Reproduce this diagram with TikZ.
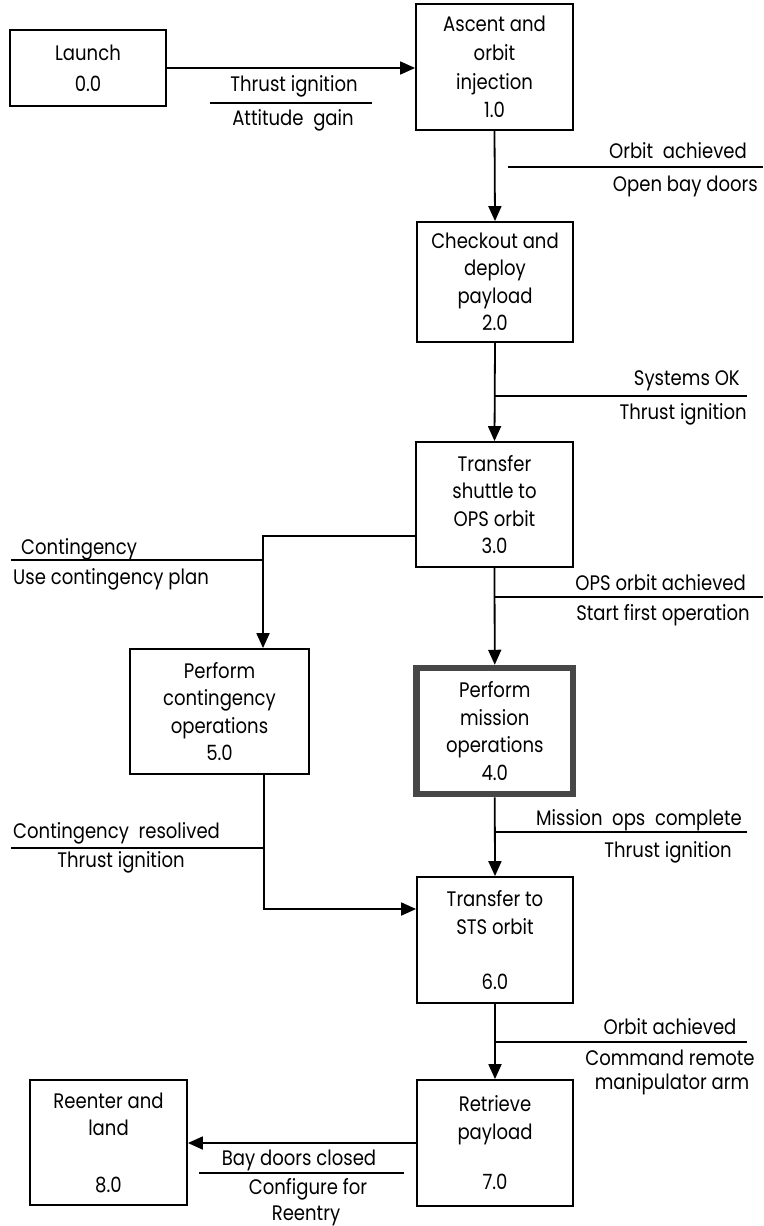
\documentclass[tikz,border=0pt]{standalone}
\usepackage{fontspec}
\setmainfont{Poppins}[FakeStretch=0.86]
\usetikzlibrary{arrows.meta,positioning}
\tikzset{
  proc/.style={draw, line width=1.8pt, rectangle, align=center, inner sep=0pt,
    font=\fontsize{21}{27.5}\selectfont},
  hot/.style={proc, draw=black!72, line width=6.5pt},
  flow/.style={line width=1.8pt, -{Triangle[length=15pt,width=13pt]}},
  rule/.style={line width=1.6pt},
  lbl/.style={inner sep=0pt, text height=15pt, text depth=0pt,
    font=\fontsize{21}{24}\selectfont}
}
\begin{document}
\begin{tikzpicture}[x=1pt, y=-1pt]
\useasboundingbox (0,0) rectangle (763,1226);

% process boxes
\node[proc, minimum width=156pt, minimum height=76pt]  (b0) at (88,68)      {Launch\\[3.5pt]0.0};
\node[proc, minimum width=157pt, minimum height=126pt, font=\fontsize{21}{28.7}\selectfont]
                                                        (b1) at (494.5,67)   {Ascent and\\orbit\\injection\\1.0};
\node[proc, minimum width=156pt, minimum height=120pt] (b2) at (495,282)    {Checkout and\\deploy\\payload\\2.0};
\node[proc, minimum width=157pt, minimum height=125pt] (b3) at (494.5,504.5) {Transfer\\shuttle to\\OPS orbit\\3.0};
\node[hot,  minimum width=156.5pt, minimum height=126pt] (b4) at (494.75,731) {Perform\\mission\\operations\\4.0};
\node[proc, minimum width=179pt, minimum height=125pt] (b5) at (219.5,711.5) {Perform\\contingency\\operations\\5.0};
\node[proc, minimum width=156pt, minimum height=126pt] (b6) at (495,940)    {Transfer to\\STS orbit\\[27.5pt]6.0};
\node[proc, minimum width=156pt, minimum height=126pt] (b7) at (495,1143)   {Retrieve\\payload\\[23pt]7.0};
\node[proc, minimum width=157pt, minimum height=125pt] (b8) at (108.5,1142.5) {Reenter and\\land\\[29pt]8.0};

% control flows
\draw[flow] (b0.east) -- (b0.east -| b1.west);
\draw[flow] (b1.south) -- (b2.north);
\draw[flow] (b2.south) -- (b3.north);
\draw[flow] (b3.south) -- (b4.north);
\draw[flow] ([yshift=-31.5pt]b3.west) -| ([xshift=43.5pt]b5.north);
\draw[flow] (b4.south) -- (b6.north);
\draw[flow] ([xshift=44.5pt]b5.south) |- ([yshift=31pt]b6.west);
\draw[flow] (b6.south) -- (b7.north);
\draw[flow] (b7.west) -- (b7.west -| b8.east);

% condition / action separators
\draw[rule] (210,103) -- (372,103);
\draw[rule] (508,167) -- (763,167);
\draw[rule] (b2.south |- 0,396) -- (747,396);
\draw[rule] (11,560) -- ([xshift=43.5pt]b5.north |- 0,560);
\draw[rule] (b3.south |- 0,597) -- (763,597);
\draw[rule] (b4.south |- 0,832) -- (747,832);
\draw[rule] (11,848) -- ([xshift=44.5pt]b5.south |- 0,848);
\draw[rule] (b6.south |- 0,1042) -- (747,1042);
\draw[rule] (199,1173) -- (404,1173);

% labels
\node[lbl] (t01a) at (294,84)  {Thrust ignition};
\node[lbl] (t01b) at (293,118) {Attitude~ gain};
\node[lbl, anchor=east] (t12a) at (747,151) {Orbit~ achieved};
\node[lbl, anchor=east] (t12b) at (758,184) {Open bay doors};
\node[lbl, anchor=east] (t23a) at (740,378) {Systems OK};
\node[lbl, anchor=east] (t23b) at (747,412) {Thrust ignition};
\node[lbl, anchor=west] (t35a) at (21,547)  {Contingency};
\node[lbl, anchor=west] (t35b) at (13,577)  {Use contingency plan};
\node[lbl, anchor=east] (t34a) at (746,583) {OPS orbit achieved};
\node[lbl, anchor=east] (t34b) at (750,613) {Start first operation};
\node[lbl, anchor=west] (t56a) at (13,831)  {Contingency~ resolived};
\node[lbl] (t56b) at (121,860) {Thrust ignition};
\node[lbl, anchor=east] (t46a) at (742,818) {Mission~ ops~ complete};
\node[lbl] (t46b) at (668,850) {Thrust ignition};
\node[lbl] (t67a) at (670,1027) {Orbit achieved};
\node[lbl] (t67b) at (670,1058) {Command remote};
\node[lbl] (t67c) at (672,1082) {manipulator arm};
\node[lbl] (t78a) at (299,1158) {Bay doors closed};
\node[lbl] (t78b) at (308,1187) {Configure for};
\node[lbl] (t78c) at (306,1213) {Reentry};
\end{tikzpicture}
\end{document}
